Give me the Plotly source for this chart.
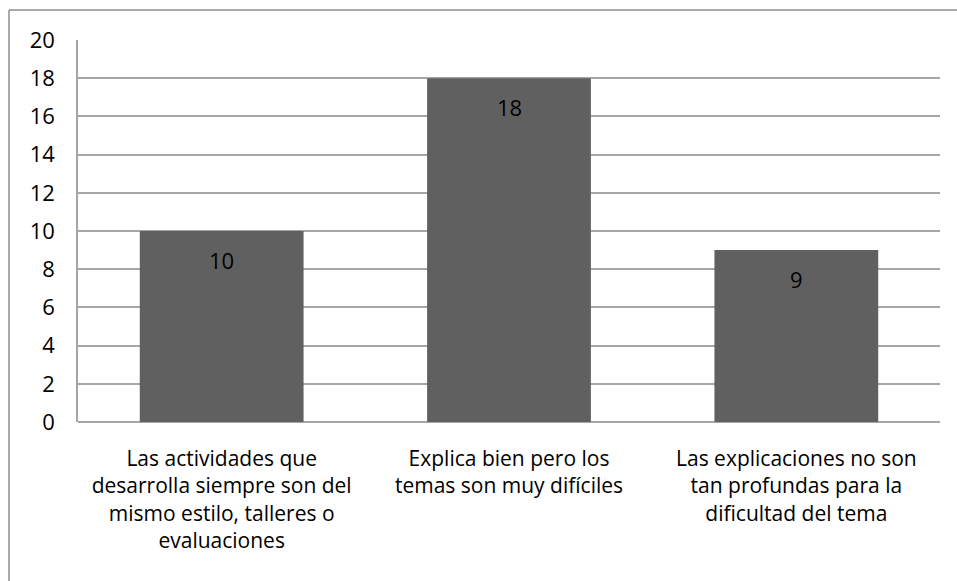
import plotly.graph_objects as go

categories = [
    "Las actividades que<br>desarrolla siempre son del<br>mismo estilo, talleres o<br>evaluaciones",
    "Explica bien pero los<br>temas son muy difíciles",
    "Las explicaciones no son<br>tan profundas para la<br>dificultad del tema",
]
values = [10, 18, 9]
y_ticks = list(range(0, 21, 2))

W, H = 957, 581
ML, MR, MT, MB = 78, 17, 40, 159
PW, PH = W - ML - MR, H - MT - MB

FONT = "Open Sans, Calibri, Carlito, sans-serif"
FS = 21
GRID = "#a6a6a6"

fig = go.Figure(
    go.Bar(
        x=categories,
        y=values,
        marker=dict(color="#606060", line=dict(width=0)),
        width=0.57,
        hoverinfo="skip",
    )
)

# value labels just inside the top of each bar
for c, v in zip(categories, values):
    fig.add_annotation(
        x=c, y=v, text=str(v), showarrow=False,
        yanchor="top", yshift=-12,
        font=dict(family=FONT, size=22, color="#000000"),
    )

# outer chart frame (left and top edges)
fx = (9 - ML) / PW
fy_top = 1 + (MT - 10) / PH
fy_bot = -(MB + 5) / PH
fig.add_shape(type="line", xref="paper", yref="paper", x0=fx, x1=fx,
              y0=fy_bot, y1=fy_top, line=dict(color="#8c8c8c", width=1.5))
fig.add_shape(type="line", xref="paper", yref="paper", x0=fx, x1=1 + MR / PW + 0.01,
              y0=fy_top, y1=fy_top, line=dict(color="#8c8c8c", width=1.5))

fig.update_layout(
    width=W, height=H,
    margin=dict(l=ML, r=MR, t=MT, b=MB),
    paper_bgcolor="white", plot_bgcolor="white",
    showlegend=False,
    bargap=0.43,
    font=dict(family=FONT, size=FS, color="#000000"),
)
fig.update_xaxes(
    showgrid=False, showline=False, ticks="",
    tickfont=dict(family=FONT, size=FS, color="#000000"),
    ticklabelstandoff=22,
)
fig.update_yaxes(
    range=[0, 20], tickvals=y_ticks, ticktext=[str(t) for t in y_ticks],
    showgrid=True, gridcolor=GRID, gridwidth=1.5,
    showline=True, linecolor=GRID, linewidth=1.5,
    zeroline=True, zerolinecolor=GRID, zerolinewidth=1.5,
    ticks="", ticklabelstandoff=17,
    tickfont=dict(family=FONT, size=22, color="#000000"),
)

fig.write_html("out.html")
